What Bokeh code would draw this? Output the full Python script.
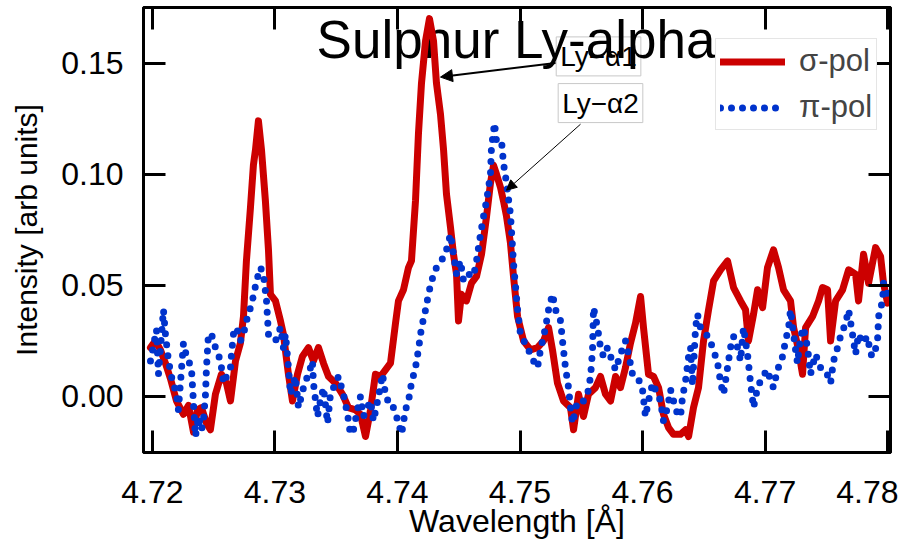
from bokeh.plotting import figure
from bokeh.models import (Range1d, LinearAxis, FixedTicker, Label, Arrow, NormalHead,
                          Legend, LegendItem, ColumnDataSource)
from bokeh.embed import file_html
from bokeh.resources import INLINE

# ---------------- data ----------------
sigma_wl = [4.71984, 4.72024, 4.72065, 4.72106, 4.72147, 4.72196, 4.72253, 4.72294, 4.72335, 4.72367,
            4.72400, 4.72441, 4.72473, 4.72514, 4.72563, 4.72604, 4.72637, 4.72678, 4.72718, 4.72743,
            4.72767, 4.72800, 4.72824, 4.72841, 4.72865, 4.72890, 4.72922, 4.72947, 4.72963, 4.73004,
            4.73045, 4.73069, 4.73110, 4.73143, 4.73184, 4.73224, 4.73273, 4.73314, 4.73355, 4.73396,
            4.73437, 4.73494, 4.73551, 4.73600, 4.73657, 4.73698, 4.73739, 4.73780, 4.73820, 4.73861,
            4.73902, 4.73943, 4.73984, 4.74008, 4.74049, 4.74090, 4.74114, 4.74147, 4.74171, 4.74196,
            4.74229, 4.74261, 4.74294, 4.74318, 4.74351, 4.74376, 4.74400, 4.74433, 4.74457, 4.74482,
            4.74498, 4.74522, 4.74563, 4.74604, 4.74645, 4.74686, 4.74727, 4.74759, 4.74784, 4.74808,
            4.74841, 4.74865, 4.74890, 4.74922, 4.74947, 4.74980, 4.75029, 4.75086, 4.75143, 4.75192,
            4.75233, 4.75265, 4.75306, 4.75355, 4.75412, 4.75437, 4.75478, 4.75518, 4.75559, 4.75616,
            4.75657, 4.75698, 4.75739, 4.75780, 4.75820, 4.75861, 4.75902, 4.75943, 4.75984, 4.76008,
            4.76049, 4.76090, 4.76131, 4.76171, 4.76212, 4.76253, 4.76310, 4.76351, 4.76376, 4.76416,
            4.76457, 4.76498, 4.76539, 4.76580, 4.76637, 4.76694, 4.76743, 4.76800, 4.76841, 4.76865,
            4.76906, 4.76939, 4.76980, 4.77020, 4.77069, 4.77110, 4.77151, 4.77208, 4.77233, 4.77273,
            4.77306, 4.77331, 4.77388, 4.77437, 4.77469, 4.77510, 4.77535, 4.77576, 4.77633, 4.77682,
            4.77739, 4.77763, 4.77804, 4.77845, 4.77902, 4.77943, 4.77967, 4.78000]
sigma_int = [0.022, 0.025, 0.021, 0.015, 0.008, -0.002, -0.008, -0.004, -0.016, -0.006,
             -0.005, -0.012, -0.015, 0.001, 0.010, 0.006, -0.002, 0.016, 0.024, 0.036,
             0.061, 0.085, 0.104, 0.111, 0.124, 0.111, 0.088, 0.066, 0.046, 0.043,
             0.034, 0.028, 0.010, -0.002, 0.010, 0.018, 0.022, 0.016, 0.022, 0.015,
             0.009, 0.006, 0.001, -0.005, -0.006, -0.008, -0.018, -0.006, 0.010, 0.009,
             0.012, 0.015, 0.033, 0.043, 0.048, 0.058, 0.061, 0.088, 0.118, 0.141,
             0.160, 0.170, 0.160, 0.141, 0.127, 0.111, 0.091, 0.076, 0.064, 0.055,
             0.034, 0.046, 0.043, 0.051, 0.054, 0.064, 0.081, 0.096, 0.104, 0.100,
             0.094, 0.088, 0.081, 0.069, 0.054, 0.036, 0.025, 0.021, 0.022, 0.025,
             0.031, 0.021, 0.006, -0.002, -0.005, -0.015, 0.001, -0.009, 0.001, 0.004,
             0.009, 0.001, -0.002, 0.009, 0.004, 0.013, 0.024, 0.033, 0.045, 0.031,
             0.010, 0.009, 0.004, -0.008, -0.014, -0.017, -0.017, -0.015, -0.018, -0.005,
             0.004, 0.025, 0.039, 0.052, 0.057, 0.061, 0.049, 0.043, 0.039, 0.025,
             0.037, 0.048, 0.040, 0.058, 0.066, 0.058, 0.048, 0.043, 0.031, 0.021,
             0.010, 0.031, 0.036, 0.043, 0.049, 0.048, 0.025, 0.043, 0.048, 0.057,
             0.055, 0.043, 0.064, 0.051, 0.067, 0.063, 0.051, 0.042]

pi_wl = [4.71984, 4.72033, 4.72049, 4.72090, 4.72106, 4.72131, 4.72155, 4.72196, 4.72212, 4.72253,
         4.72278, 4.72318, 4.72335, 4.72351, 4.72376, 4.72400, 4.72416, 4.72433, 4.72441, 4.72457,
         4.72482, 4.72514, 4.72539, 4.72563, 4.72580, 4.72604, 4.72637, 4.72645, 4.72661, 4.72686,
         4.72718, 4.72743, 4.72767, 4.72800, 4.72824, 4.72849, 4.72882, 4.72906, 4.72931, 4.72947,
         4.73004, 4.73045, 4.73069, 4.73086, 4.73110, 4.73127, 4.73167, 4.73192, 4.73233, 4.73265,
         4.73290, 4.73306, 4.73314, 4.73347, 4.73371, 4.73396, 4.73429, 4.73453, 4.73494, 4.73518,
         4.73559, 4.73592, 4.73616, 4.73641, 4.73673, 4.73698, 4.73722, 4.73755, 4.73780, 4.73804,
         4.73845, 4.73878, 4.73902, 4.73943, 4.73967, 4.73992, 4.74033, 4.74065, 4.74090, 4.74114,
         4.74147, 4.74171, 4.74196, 4.74229, 4.74253, 4.74278, 4.74318, 4.74359, 4.74400, 4.74433,
         4.74457, 4.74482, 4.74514, 4.74539, 4.74580, 4.74620, 4.74645, 4.74678, 4.74702, 4.74727,
         4.74759, 4.74767, 4.74792, 4.74808, 4.74849, 4.74865, 4.74890, 4.74922, 4.74947, 4.74980,
         4.75004, 4.75061, 4.75110, 4.75143, 4.75167, 4.75208, 4.75233, 4.75265, 4.75290, 4.75331,
         4.75347, 4.75371, 4.75396, 4.75412, 4.75429, 4.75469, 4.75518, 4.75551, 4.75576, 4.75592,
         4.75600, 4.75633, 4.75657, 4.75682, 4.75714, 4.75739, 4.75780, 4.75820, 4.75861, 4.75886,
         4.75918, 4.75959, 4.76000, 4.76024, 4.76049, 4.76082, 4.76122, 4.76147, 4.76171, 4.76204,
         4.76229, 4.76253, 4.76286, 4.76310, 4.76327, 4.76351, 4.76376, 4.76392, 4.76408, 4.76433,
         4.76449, 4.76473, 4.76514, 4.76539, 4.76571, 4.76596, 4.76620, 4.76637, 4.76661, 4.76694,
         4.76718, 4.76743, 4.76776, 4.76800, 4.76824, 4.76857, 4.76882, 4.76906, 4.76939, 4.76980,
         4.77020, 4.77045, 4.77069, 4.77102, 4.77143, 4.77167, 4.77192, 4.77208, 4.77233, 4.77249,
         4.77265, 4.77290, 4.77314, 4.77347, 4.77371, 4.77412, 4.77453, 4.77494, 4.77535, 4.77559,
         4.77592, 4.77616, 4.77657, 4.77682, 4.77714, 4.77739, 4.77763, 4.77796, 4.77837, 4.77861,
         4.77886, 4.77918, 4.77927, 4.77959, 4.77967, 4.78000]
pi_int = [0.016, 0.030, 0.010, 0.039, 0.028, 0.016, 0.009, 0.001, -0.006, 0.024,
          0.018, 0.013, -0.003, -0.018, -0.009, -0.015, -0.011, 0.001, 0.013, 0.028,
          0.028, 0.022, 0.019, 0.013, 0.006, 0.009, 0.013, 0.019, 0.028, 0.031,
          0.025, 0.028, 0.034, 0.040, 0.045, 0.052, 0.058, 0.055, 0.043, 0.028,
          0.025, 0.031, 0.022, 0.028, 0.013, 0.001, 0.009, -0.005, 0.004, 0.009,
          0.013, 0.016, 0.006, -0.009, -0.002, 0.004, -0.012, 0.001, 0.006, 0.009,
          0.001, -0.008, -0.017, -0.015, -0.006, 0.000, -0.009, -0.005, -0.002, -0.011,
          0.000, 0.010, 0.001, -0.005, -0.005, -0.009, -0.017, -0.006, -0.002, 0.006,
          0.013, 0.021, 0.031, 0.039, 0.046, 0.052, 0.058, 0.061, 0.066, 0.073,
          0.064, 0.055, 0.061, 0.052, 0.055, 0.054, 0.061, 0.073, 0.081, 0.088,
          0.100, 0.112, 0.123, 0.115, 0.115, 0.105, 0.096, 0.082, 0.060, 0.039,
          0.028, 0.022, 0.016, 0.013, 0.021, 0.031, 0.039, 0.046, 0.039, 0.034,
          0.025, 0.013, 0.004, -0.005, -0.012, -0.002, -0.002, 0.001, 0.009, 0.021,
          0.040, 0.031, 0.022, 0.018, 0.022, 0.018, 0.012, 0.019, 0.025, 0.019,
          0.010, 0.009, 0.003, -0.009, -0.002, 0.006, 0.001, -0.002, -0.011, -0.005,
          0.003, -0.002, -0.008, -0.009, 0.000, 0.007, 0.018, 0.022, 0.005, 0.031,
          0.037, 0.031, 0.028, 0.027, 0.022, 0.018, 0.013, 0.006, 0.001, 0.013,
          0.022, 0.027, 0.022, 0.016, 0.031, 0.019, 0.006, -0.005, 0.004, 0.009,
          0.012, 0.007, 0.004, 0.012, 0.018, 0.025, 0.031, 0.039, 0.028, 0.021,
          0.015, 0.027, 0.031, 0.022, 0.010, 0.019, 0.013, 0.012, 0.006, 0.016,
          0.022, 0.027, 0.033, 0.039, 0.028, 0.019, 0.028, 0.024, 0.027, 0.019,
          0.018, 0.025, 0.036, 0.043, 0.051, 0.046]

x_ticks = [4.72, 4.73, 4.74, 4.75, 4.76, 4.77, 4.78]
y_ticks = [0.00, 0.05, 0.10, 0.15]
y_tick_labels = {0.0: "0.00", 0.05: "0.05", 0.1: "0.10", 0.15: "0.15"}
x_tick_labels = {4.72: "4.72", 4.73: "4.73", 4.74: "4.74", 4.75: "4.75",
                 4.76: "4.76", 4.77: "4.77", 4.78: "4.78"}

title_text = "Sulphur Ly-alpha"
series_labels = ["σ-pol", "π-pol"]
ann1_text = "Ly\u2212\u03b11"
ann2_text = "Ly\u2212\u03b12"

# ---------------- figure ----------------
FONT = "Liberation Sans"
RED = "#cc0000"
BLUE = "#0033cc"

p = figure(width=898, height=544, output_backend="svg", toolbar_location=None,
           x_range=Range1d(4.71927, 4.78024), y_range=Range1d(-0.0252, 0.175),
           min_border_left=143, min_border_right=8, min_border_top=7, min_border_bottom=92,
           x_axis_label="Wavelength [Å]", y_axis_label="Intensity [arb units]")
p.xgrid.visible = False
p.ygrid.visible = False
p.outline_line_color = "black"
p.outline_line_width = 3
p.background_fill_color = "white"
p.border_fill_color = "white"


def style_axis(ax, ticks, overrides, show_labels):
    ax.ticker = FixedTicker(ticks=ticks)
    ax.major_label_overrides = overrides
    ax.axis_line_width = 3
    ax.axis_line_color = "black"
    ax.major_tick_line_width = 3
    ax.major_tick_line_color = "black"
    ax.major_tick_in = 22
    ax.major_tick_out = 0
    ax.minor_tick_line_color = None
    ax.major_label_text_font = FONT
    ax.axis_label_text_font = FONT
    ax.axis_label_text_font_style = "normal"
    ax.axis_label_text_color = "black"
    if show_labels:
        ax.major_label_text_color = "black"
        ax.major_label_text_font_size = "32px"
    else:
        ax.major_label_text_color = None
        ax.major_label_text_font_size = "1px"
        ax.major_label_standoff = 0
        ax.axis_label = None


style_axis(p.xaxis[0], x_ticks, x_tick_labels, True)
style_axis(p.yaxis[0], y_ticks, y_tick_labels, True)
p.xaxis[0].axis_label_text_font_size = "32px"
p.yaxis[0].axis_label_text_font_size = "30px"
p.xaxis[0].major_label_standoff = 28
p.xaxis[0].axis_label_standoff = -3
p.yaxis[0].major_label_standoff = 20
p.yaxis[0].axis_label_standoff = 15

top_ax = LinearAxis()
right_ax = LinearAxis()
style_axis(top_ax, x_ticks, {}, False)
style_axis(right_ax, y_ticks, {}, False)
p.add_layout(top_ax, "above")
p.add_layout(right_ax, "right")

# annotation boxes (drawn beneath the title)
box_style = dict(text_font=FONT, text_font_size="28px", text_color="black",
                 text_align="center", text_baseline="middle",
                 background_fill_color="white", border_line_color="#c8c8c8",
                 border_line_width=1, padding=4, level="underlay")
ann1 = Label(x=4.75641, y=0.1530, text=ann1_text, **box_style)
ann2 = Label(x=4.75657, y=0.1320, text=ann2_text, **box_style)
p.add_layout(ann1)
p.add_layout(ann2)

title = Label(x=4.73340, y=0.1604, text=title_text, text_font=FONT,
              text_font_size="53px", text_color="black", text_baseline="alphabetic",
              level="underlay")
p.add_layout(title)

# data
src_s = ColumnDataSource(dict(x=sigma_wl, y=sigma_int))
src_p = ColumnDataSource(dict(x=pi_wl, y=pi_int))
r_sigma = p.line("x", "y", source=src_s, line_color=RED, line_width=7,
                 line_join="round", line_cap="round")
r_pi = p.line("x", "y", source=src_p, line_color=BLUE, line_width=7,
              line_dash="0 11", line_cap="round", line_join="round")

# arrows
p.add_layout(Arrow(end=NormalHead(size=12, fill_color="black", line_color="black"),
                   x_start=4.75290, y_start=0.1500, x_end=4.74351, y_end=0.1437,
                   line_width=2, line_color="black"))
p.add_layout(Arrow(end=NormalHead(size=10, fill_color="black", line_color="black"),
                   x_start=4.75494, y_start=0.1225, x_end=4.74890, y_end=0.0928,
                   line_width=1, line_color="black"))

legend = Legend(items=[LegendItem(label=series_labels[0], renderers=[r_sigma]),
                       LegendItem(label=series_labels[1], renderers=[r_pi])],
                location=(572, 322), label_text_font=FONT, label_text_font_size="31px",
                glyph_width=65, glyph_height=33, label_height=33, label_standoff=14,
                padding=4, spacing=10, margin=0, border_line_color="#cccccc",
                border_line_width=1, background_fill_color="white", background_fill_alpha=1)
p.add_layout(legend)

open("out.html", "w").write(file_html(p, INLINE))
